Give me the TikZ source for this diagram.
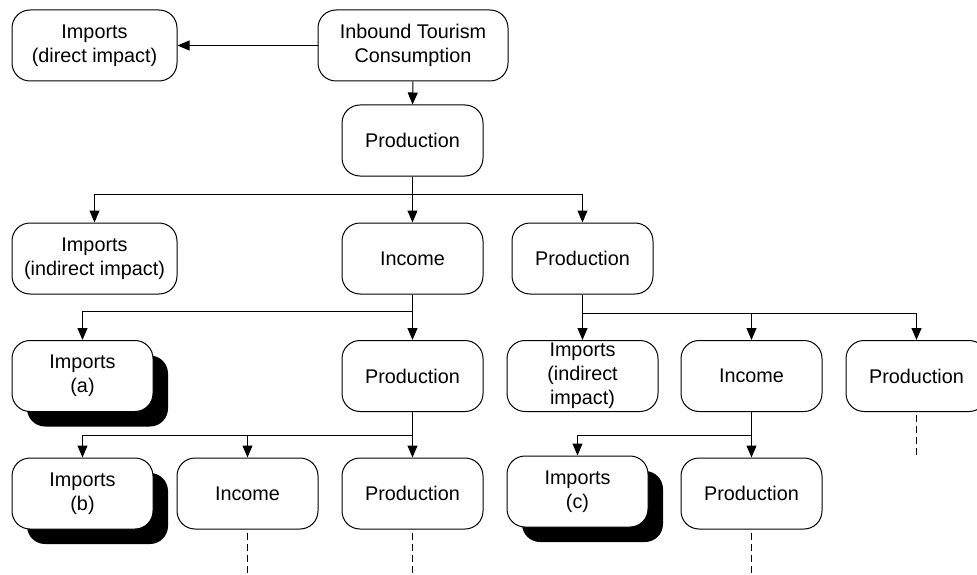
\documentclass[tikz,border=0pt]{standalone}
\usepackage{fontspec}
\setmainfont{Liberation Sans}
\usetikzlibrary{arrows.meta,shadows}
\begin{document}
\begin{tikzpicture}[x=1pt,y=-1pt,
  box/.style={draw, line width=1pt, rounded corners=18pt, fill=white,
    minimum width=141pt, minimum height=71pt, inner sep=0pt, align=center,
    font=\fontsize{19.8}{24}\selectfont},
  shd/.style={drop shadow={shadow xshift=15pt, shadow yshift=-15pt, fill=black, opacity=1}},
  conn/.style={line width=1pt, -{Triangle[length=12pt,width=10pt]}},
  dashline/.style={line width=1.6pt, dash pattern=on 7pt off 4pt}]
\useasboundingbox (0,0) rectangle (977,575);
% row 1
\node[box, minimum width=165pt] (imd) at (94.5,45.5) {Imports\\(direct impact)};
\node[box, minimum width=190pt] (itc) at (413,45.5) {Inbound Tourism\\Consumption};
% row 2
\node[box] (p1) at (412.5,140.5) {Production};
% row 3
\node[box, minimum width=165pt] (imi) at (94.5,258.5) {Imports\\(indirect impact)};
\node[box] (inc1) at (412.5,258.5) {Income};
\node[box] (p2) at (582.5,258.5) {Production};
% row 4
\node[box, shd] (impa) at (82.5,376) {Imports\\(a)};
\node[box] (p3) at (412.5,376) {Production};
\node[box, minimum width=151pt] (imi2) at (582.5,376) {Imports\\(indirect\\impact)};
\node[box] (inc2) at (751.5,376) {Income};
\node[box] (p4) at (916.5,376) {Production};
% row 5
\node[box, shd] (impb) at (82.5,493.5) {Imports\\(b)};
\node[box] (inc3) at (247.5,493.5) {Income};
\node[box] (p5) at (412.5,493.5) {Production};
\node[box, shd] (impc) at (577.5,491.5) {Imports\\(c)};
\node[box] (p6) at (751.5,493.5) {Production};
% connectors
\draw[conn] (itc.west) -- (imd.east);
\draw[conn] (itc.south) -- (p1.north);
\coordinate (j1) at (p1.south |- 0,194);
\draw[conn] (p1.south) -- (inc1.north);
\draw[conn] (j1) -| (imi.north);
\draw[conn] (j1) -| (p2.north);
\coordinate (j2) at (inc1.south |- 0,311);
\draw[conn] (inc1.south) -- (p3.north);
\draw[conn] (j2) -| (impa.north);
\coordinate (j3) at (p2.south |- 0,313);
\draw[conn] (p2.south) -- (imi2.north);
\draw[conn] (j3) -| (inc2.north);
\draw[conn] (j3) -| (p4.north);
\coordinate (j4) at (p3.south |- 0,435);
\draw[conn] (p3.south) -- (p5.north);
\draw[conn] (j4) -| (inc3.north);
\draw[conn] (j4) -| (impb.north);
\coordinate (j5) at (inc2.south |- 0,435);
\draw[conn] (inc2.south) -- (p6.north);
\draw[conn] (j5) -| (impc.north);
% dashed continuations
\coordinate (e1) at (inc3.south |- 0,575);
\coordinate (e2) at (p5.south |- 0,575);
\coordinate (e3) at (p6.south |- 0,575);
\coordinate (e4) at (p4.south |- 0,458);
\draw[dashline] (inc3.south) ++(0,3) -- (e1);
\draw[dashline] (p5.south) ++(0,3) -- (e2);
\draw[dashline] (p6.south) ++(0,3) -- (e3);
\draw[dashline] (p4.south) ++(0,3) -- (e4);
\end{tikzpicture}
\end{document}
